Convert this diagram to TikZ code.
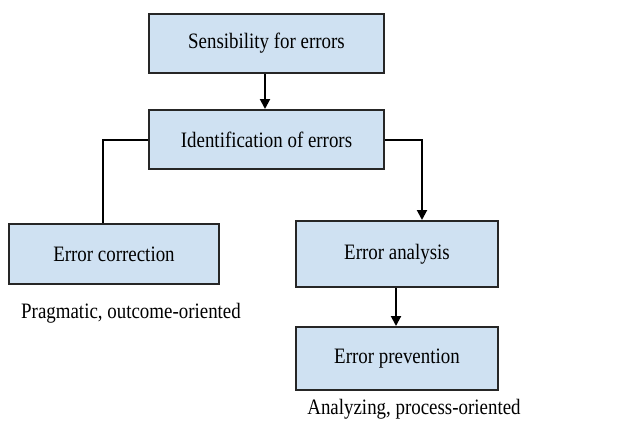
\documentclass[tikz,border=0pt]{standalone}
\usepackage{fontspec}
\setmainfont{Liberation Serif}[FakeStretch=0.86]
\usetikzlibrary{arrows.meta}
\definecolor{boxfill}{RGB}{207,225,242}
\tikzset{
  box/.style={draw=black!85, line width=2pt, fill=boxfill, minimum height=#1, inner sep=0pt, anchor=north west},
  conn/.style={draw=black, line width=2pt, line join=miter},
  arr/.style={conn, -{Triangle[length=10pt,width=10pt]}},
  lbl/.style={font=\fontsize{22}{26}\selectfont, inner sep=0pt}
}
\begin{document}
\begin{tikzpicture}[x=1pt,y=-1pt]
\useasboundingbox (0,0) rectangle (618,429);
% boxes
\node[box=59pt, minimum width=235pt] (sens) at (148,13) {};
\node[lbl] at (sens.center) {Sensibility for errors};
\node[box=59pt, minimum width=235pt] (ident) at (148,109) {};
\node[lbl] at (ident.center) {Identification of errors};
\node[box=60pt, minimum width=210pt] (corr) at (8,223) {};
\node[lbl] at (corr.center) {Error correction};
\node[box=66pt, minimum width=202pt] (anal) at (295,220) {};
\node[lbl] at (anal.center) {Error analysis};
\node[box=63pt, minimum width=202pt] (prev) at (295,326) {};
\node[lbl] at (prev.center) {Error prevention};
% captions
\node[lbl] (cap1) at (131,313) {Pragmatic, outcome-oriented};
\node[lbl] (cap2) at (414,409) {Analyzing, process-oriented};
% connectors
\draw[arr] (sens.south -| 265,0) -- (ident.north -| 265,0);
\draw[conn] (ident.west) -| (corr.north -| 103,0);
\draw[arr] (ident.east) -| (anal.north -| 422,0);
\draw[arr] (anal.south -| 396,0) -- (prev.north -| 396,0);
\end{tikzpicture}
\end{document}
